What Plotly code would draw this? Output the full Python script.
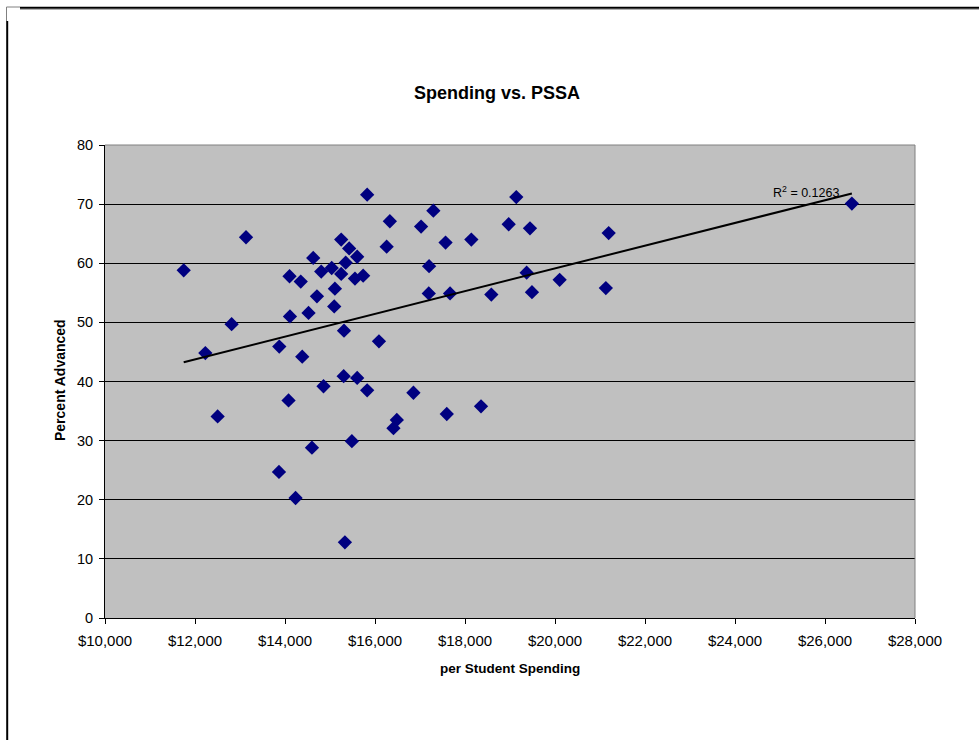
import numpy as np
import plotly.graph_objects as go

# ---- data ----
spending = [11749, 12230, 12503, 12814, 13134, 13873, 13866, 14079, 14235, 14110,
            14101, 14350, 14383, 14523, 14599, 14627, 14710, 14805, 14856, 15038,
            15094, 15109, 15249, 15249, 15311, 15304, 15331, 15349, 15426, 15486,
            15555, 15604, 15604, 15737, 15826, 15826, 16088, 16259, 16330, 16410,
            16485, 16854, 17024, 17202, 17195, 17297, 17568, 17595, 17668, 18141,
            18356, 18585, 18971, 19140, 19370, 19444, 19488, 20103, 21130, 21193,
            26597]
percent_adv = [58.8, 44.8, 34.1, 49.7, 64.4, 45.9, 24.7, 36.8, 20.3, 51.0,
               57.8, 56.9, 44.2, 51.6, 28.8, 60.9, 54.4, 58.6, 39.2, 59.2,
               52.7, 55.7, 58.2, 64.0, 48.6, 40.9, 12.8, 60.1, 62.5, 29.9,
               57.4, 40.6, 61.1, 57.9, 38.5, 71.6, 46.8, 62.8, 67.1, 32.1,
               33.5, 38.1, 66.2, 59.5, 54.9, 68.9, 63.5, 34.5, 54.9, 64.0,
               35.8, 54.7, 66.6, 71.2, 58.4, 65.9, 55.1, 57.2, 55.8, 65.1,
               70.1]
x_ticks = list(range(10000, 28001, 2000))
y_ticks = list(range(0, 81, 10))
r2_label = "R<sup>2</sup> = 0.1263"

FONT = "Liberation Sans, Arial, sans-serif"

# linear trend from the data
xs = np.array(spending, dtype=float)
ys = np.array(percent_adv, dtype=float)
slope, intercept = np.polyfit(xs, ys, 1)
trend_x = [xs.min(), xs.max()]
trend_y = [slope * v + intercept for v in trend_x]

fig = go.Figure()
fig.add_trace(go.Scatter(
    x=spending, y=percent_adv, mode="markers",
    marker=dict(symbol="diamond", size=11, color="#000080", line=dict(width=0)),
    showlegend=False, hoverinfo="x+y"))
fig.add_trace(go.Scatter(
    x=trend_x, y=trend_y, mode="lines",
    line=dict(color="black", width=2), showlegend=False, hoverinfo="skip"))

# plot area in pixels
L, R, T, B = 105, 915, 145, 618
W, H = 979, 740
def px(x):
    return (x - L) / (R - L)
def py(y):
    return (B - y) / (B - T)

shapes = [
    # plot area border top/right (gray)
    dict(type="line", xref="paper", yref="paper", x0=0, x1=1, y0=1, y1=1,
         line=dict(color="#808080", width=1)),
    dict(type="line", xref="paper", yref="paper", x0=1, x1=1, y0=0, y1=1,
         line=dict(color="#808080", width=1)),
    # outer frame
    dict(type="line", xref="paper", yref="paper", x0=px(20), x1=px(W + 2),
         y0=py(7.8), y1=py(7.8), line=dict(color="black", width=2)),
    dict(type="line", xref="paper", yref="paper", x0=px(20), x1=px(W + 2),
         y0=py(9.5), y1=py(9.5), line=dict(color="#b0b0b0", width=1)),
    dict(type="line", xref="paper", yref="paper", x0=px(7.2), x1=px(7.2),
         y0=py(21), y1=py(W), line=dict(color="black", width=2)),
    dict(type="line", xref="paper", yref="paper", x0=px(6.5), x1=px(20),
         y0=py(7), y1=py(7), line=dict(color="#808080", width=1)),
    dict(type="line", xref="paper", yref="paper", x0=px(6.5), x1=px(6.5),
         y0=py(7), y1=py(21), line=dict(color="#808080", width=1)),
]

annotations = [
    dict(text="<b>Spending vs. PSSA</b>", xref="paper", yref="paper",
         x=px(497), y=py(93), xanchor="center", yanchor="middle",
         showarrow=False, font=dict(family=FONT, size=18, color="black")),
    dict(text="<b>per Student Spending</b>", xref="paper", yref="paper",
         x=px(510), y=py(668), xanchor="center", yanchor="middle",
         showarrow=False, font=dict(family=FONT, size=13.5, color="black")),
    dict(text="<b>Percent Advanced</b>", xref="paper", yref="paper",
         x=px(60), y=py(380), xanchor="center", yanchor="middle", textangle=-90,
         showarrow=False, font=dict(family=FONT, size=14, color="black")),
    dict(text=r2_label, xref="x", yref="y",
         x=24800, y=72.0, xanchor="left", yanchor="middle",
         showarrow=False, font=dict(family=FONT, size=12.5, color="black")),
]

fig.update_layout(
    width=W, height=H,
    margin=dict(l=L, r=W - R, t=T, b=H - B, pad=0),
    paper_bgcolor="white", plot_bgcolor="#C0C0C0",
    font=dict(family=FONT, size=14, color="black"),
    shapes=shapes, annotations=annotations,
    xaxis=dict(range=[10000, 28000], tickvals=x_ticks,
               ticktext=["${:,}".format(v) for v in x_ticks],
               showgrid=False, zeroline=False,
               showline=True, linecolor="black", linewidth=1,
               ticks="outside", ticklen=5, tickcolor="black", tickwidth=1,
               ticklabelstandoff=4,
               tickfont=dict(family=FONT, size=15, color="black")),
    yaxis=dict(range=[0, 80], tickvals=y_ticks,
               showgrid=True, gridcolor="black", gridwidth=1, zeroline=False,
               showline=True, linecolor="black", linewidth=1,
               ticks="outside", ticklen=5, tickcolor="black", tickwidth=1,
               ticklabelstandoff=3,
               tickfont=dict(family=FONT, size=14.5, color="black")),
)

fig.write_html("out.html")
